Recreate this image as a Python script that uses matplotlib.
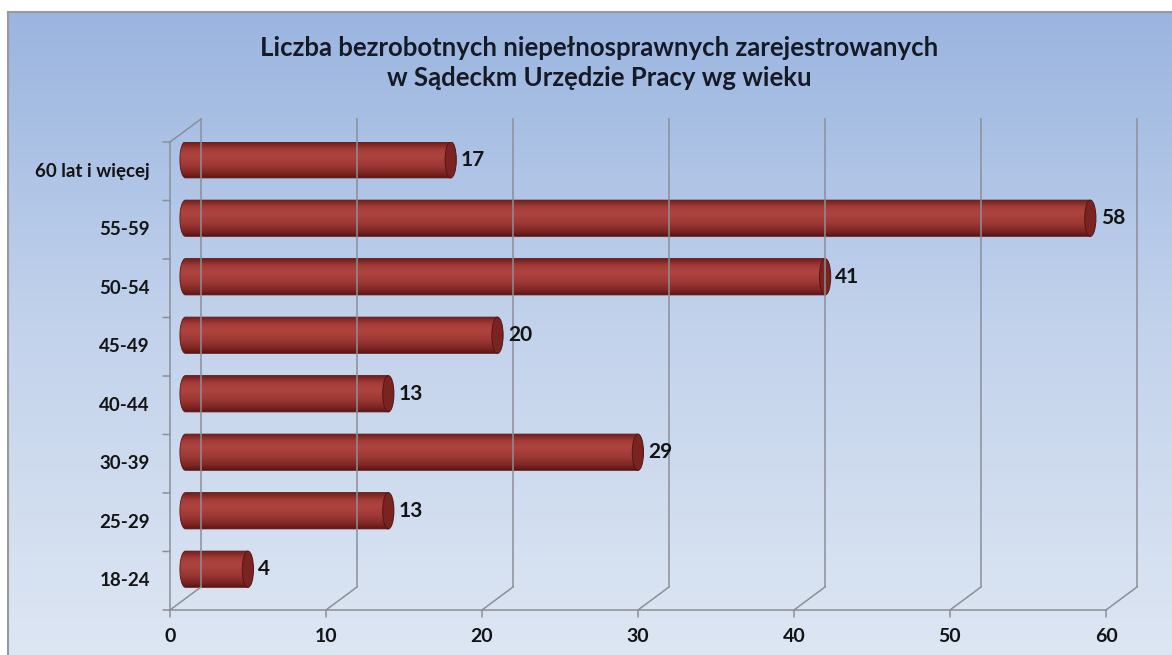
import numpy as np
import matplotlib
matplotlib.use('Agg')
import matplotlib.pyplot as plt
from matplotlib.colors import LinearSegmentedColormap
from matplotlib.patches import PathPatch, Ellipse
from matplotlib.path import Path
from matplotlib.transforms import offset_copy

categories  = ['18-24', '25-29', '30-39', '40-44', '45-49', '50-54', '55-59', '60 lat i więcej']
values      = [4, 13, 29, 13, 20, 41, 58, 17]
xticks      = [0, 10, 20, 30, 40, 50, 60]
title       = 'Liczba bezrobotnych niepełnosprawnych zarejestrowanych\nw Sądeckm Urzędzie Pracy wg wieku'

plt.rcParams['font.family'] = ['Lato', 'DejaVu Sans']
W, H    = 1172, 655
fig     = plt.figure(figsize=(W / 100, H / 100), dpi=100, facecolor='white')

def shift(dx, dy):
    return offset_copy(ax.transData, fig=fig, x=dx, y=dy, units='dots')

# background panel with vertical gradient
bg = fig.add_axes([8 / W, 0, 1 - 8 / W, (H - 12) / H])
bg_cmap = LinearSegmentedColormap.from_list('bg', ['#dde6f3', '#c3d3ec', '#9bb5e0'])
bg.imshow(np.linspace(0, 1, 256).reshape(-1, 1), cmap=bg_cmap, origin='lower',
          aspect='auto', extent=[0, 1, 0, 1])
bg.set_xlim(0, 1)
bg.set_ylim(0, 1)
bg.set_xticks([])
bg.set_yticks([])
for s in ['right', 'bottom']:
    bg.spines[s].set_visible(False)
for s in ['left', 'top']:
    bg.spines[s].set_color('#9a9a9a')
    bg.spines[s].set_linewidth(1.5)

bg.text(0.508, 1 - 24 / (H - 12), title, transform=bg.transAxes, ha='center', va='top',
        fontsize=18.5, fontweight='bold', color='#141a26', linespacing=1.3)

# main plot area (front plane)
ax = fig.add_axes([170 / W, 45 / H, 936 / W, 468 / H])
ax.set_xlim(0, 60)
ax.set_ylim(-0.5, 7.5)
ax.axis('off')
ax.patch.set_alpha(0)

back    = shift(31, 23)
mid     = shift(15.5, 11.5)
gc      = '#8c8f96'
lw      = 1.1

y0, y1 = -0.5, len(categories) - 0.5
for t in xticks:
    ax.plot([t, t], [y0, y1], color=gc, lw=lw, transform=back, clip_on=False)
    # floor diagonal: front point to back point
    ax.annotate('', xy=(t, y0), xycoords=back, xytext=(t, y0), textcoords='data',
                arrowprops=dict(arrowstyle='-', color=gc, lw=lw, shrinkA=0, shrinkB=0))
    ax.annotate('', xy=(t, y0), xycoords=shift(0, -7), xytext=(t, y0), textcoords='data',
                arrowprops=dict(arrowstyle='-', color=gc, lw=lw, shrinkA=0, shrinkB=0))
    ax.text(t, y0, str(t), ha='center', va='top', fontsize=14, fontweight='bold',
            color='#141414', transform=shift(0, -18))

ax.plot([0, 60], [y0, y0], color=gc, lw=lw, clip_on=False)
ax.plot([0, 0], [y0, y1], color=gc, lw=lw, clip_on=False)
ax.annotate('', xy=(0, y1), xycoords=back, xytext=(0, y1), textcoords='data',
            arrowprops=dict(arrowstyle='-', color=gc, lw=lw, shrinkA=0, shrinkB=0))
for k in range(len(categories) + 1):
    ax.annotate('', xy=(0, y0 + k), xycoords=shift(-7, 0), xytext=(0, y0 + k),
                textcoords='data',
                arrowprops=dict(arrowstyle='-', color=gc, lw=lw, shrinkA=0, shrinkB=0))

for i, c in enumerate(categories):
    ax.text(0, i, c, ha='right', va='center', fontsize=13.5, fontweight='bold',
            color='#141414', transform=shift(-20, 0))

# cylinders
bar_cmap = LinearSegmentedColormap.from_list('cyl', [
    (0.0, '#5c1614'), (0.12, '#7c2522'), (0.35, '#9e3935'), (0.62, '#ae443f'),
    (0.8, '#a23b37'), (0.93, '#7e2623'), (1.0, '#6a1f1c')])
grad    = np.linspace(0, 1, 128).reshape(-1, 1)
bh      = 0.31
cw      = 0.36
theta   = np.linspace(np.pi / 2, 3 * np.pi / 2, 40)

for i, v in enumerate(values):
    ex      = cw * np.cos(theta)
    ey      = i + bh * np.sin(theta)
    verts   = list(zip(ex, ey)) + [(v, i - bh), (v, i + bh), (0, i + bh)]
    path    = Path(verts + [verts[0]],
                   [Path.MOVETO] + [Path.LINETO] * (len(verts) - 1) + [Path.CLOSEPOLY])
    clip    = PathPatch(path, transform=mid, facecolor='none', edgecolor='none')
    ax.add_patch(clip)
    im = ax.imshow(grad, cmap=bar_cmap, origin='lower', aspect='auto',
                   extent=[-cw, v, i - bh, i + bh], transform=mid, interpolation='bilinear')
    im.set_clip_path(clip)
    edge = PathPatch(path, transform=mid, facecolor='none', edgecolor='#5a1614', lw=0.6)
    ax.add_patch(edge)
    ax.add_patch(Ellipse((v, i), 2 * cw, 2 * bh, transform=mid, facecolor='#7a2421',
                         edgecolor='#561412', lw=0.7))
    ax.text(v + cw + 0.3, i, str(v), ha='left', va='center', fontsize=15,
            fontweight='bold', color='#141414', transform=mid)

ax.set_xlim(0, 60)
ax.set_ylim(-0.5, 7.5)

plt.savefig('out.png', dpi=100, facecolor='white')
